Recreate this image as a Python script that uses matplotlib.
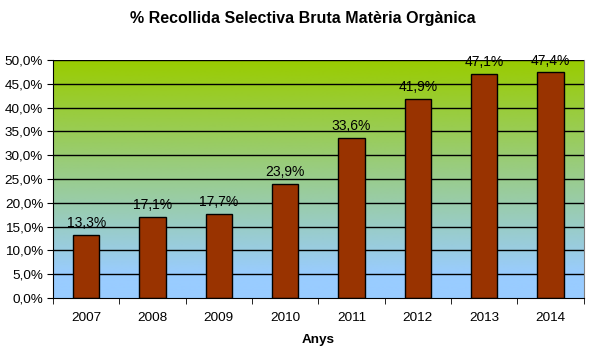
import numpy as np
import matplotlib.pyplot as plt
from matplotlib.colors import LinearSegmentedColormap
from matplotlib.ticker import FuncFormatter, MultipleLocator

plt.rcParams['font.family'] = ['Liberation Sans', 'DejaVu Sans']

# Data
years = ['2007', '2008', '2009', '2010', '2011', '2012', '2013', '2014']
pct = [13.3, 17.1, 17.7, 23.9, 33.6, 41.9, 47.1, 47.4]

fig = plt.figure(figsize=(6.05, 3.51), dpi=100)
ax = fig.add_axes([0.0876, 0.151, 0.877, 0.678])

x = np.arange(len(years))
ax.set_xlim(-0.5, len(years) - 0.5)
ax.set_ylim(0, 50)

# gradient background green -> light blue
cmap = LinearSegmentedColormap.from_list('bg', [(0, '#99CCFF'), (0.1, '#99CCFF'), (1, '#99CC00')])
grad = np.linspace(0, 1, 256).reshape(-1, 1)
ax.imshow(grad, cmap=cmap, aspect='auto', origin='lower',
          extent=[-0.5, len(years) - 0.5, 0, 50], zorder=0)

for yv in range(5, 51, 5):
    ax.axhline(yv, color='black', lw=1, zorder=1)

ax.bar(x, pct, width=0.4, color='#993300', edgecolor='black', lw=1, zorder=2)

for xi, v in zip(x, pct):
    ax.text(xi, v + 1.0, f"{v:.1f}%".replace('.', ','), ha='center', va='bottom', fontsize=10)

ax.yaxis.set_major_locator(MultipleLocator(5))
ax.yaxis.set_major_formatter(FuncFormatter(lambda v, p: f"{v:.1f}%".replace('.', ',')))
ax.set_xticks(x)
ax.set_xticklabels(years)
ax.set_xticks(np.arange(-0.5, len(years), 1), minor=True)
ax.tick_params(axis='x', which='major', length=0, pad=10, labelsize=9.7)
ax.tick_params(axis='x', which='minor', length=4, color='black')
ax.tick_params(axis='y', length=4, labelsize=9.7, pad=3)

ax.spines['top'].set_visible(False)
ax.spines['right'].set_color('#808080')

ax.set_xlabel('Anys', fontsize=9.7, fontweight='bold', labelpad=7)
fig.suptitle('% Recollida Selectiva Bruta Matèria Orgànica', fontsize=11.5,
             fontweight='bold', y=0.97)

fig.savefig('out.png', dpi=100)
